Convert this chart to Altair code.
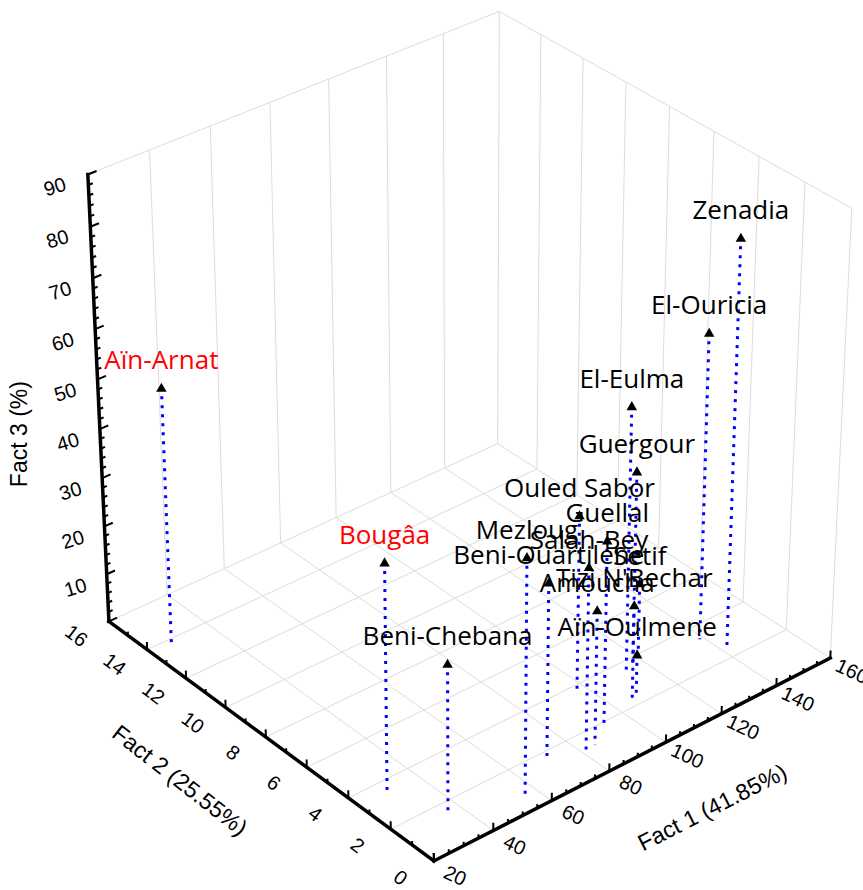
import numpy as np
import pandas as pd
import altair as alt

# ---------------- data ----------------
names = ["Aïn-Arnat", "Bougâa", "Beni-Chebana", "Zenadia", "El-Ouricia", "El-Eulma",
         "Guergour", "Ouled Sabor", "Guellal", "Mezloug", "Salah-Bey", "Beni-Ouartilene",
         "Setif", "Tizi N'Bechar", "Amoucha", "Aïn-Oulmene"]
fact1 = [26.3, 29.9, 35.8, 142.6, 138.8, 113.5, 115.5, 97.5, 93.1, 55.7, 81.5, 70.6,
         119.0, 105.8, 84.7, 108.5]
fact2 = [13.7, 3.56, 1.52, 2.58, 3.36, 3.56, 3.52, 3.78, 1.95, 0.65, 1.26, 1.63,
         3.72, 2.29, 1.27, 2.45]
fact3 = [53.0, 46.0, 30.4, 82.2, 62.7, 54.2, 40.8, 36.1, 37.5, 48.3, 37.4, 36.3,
         16.4, 19.8, 27.8, 8.4]
highlight = ["Aïn-Arnat", "Bougâa"]

f1_ticks = [20, 40, 60, 80, 100, 120, 140, 160]
f2_ticks = [0, 2, 4, 6, 8, 10, 12, 14, 16]
f3_ticks = [10, 20, 30, 40, 50, 60, 70, 80, 90]
F1_RANGE = (20, 160)
F2_RANGE = (0, 16)
F3_RANGE = (0, 90)
title_f1 = "Fact 1 (41.85%)"
title_f2 = "Fact 2 (25.55%)"
title_f3 = "Fact 3 (%)"

# ---------------- 3D view (perspective camera) ----------------
AZIMUTH = np.radians(39.96)
ELEVATION = np.radians(32.67)
BOX_HEIGHT = 1.0105
DISTANCE = 9.507
W, H = 863, 890
SCALE, CX, CY = 526.71, 467.67, 421.88


def nu(f1):
    return (np.asarray(f1, float) - F1_RANGE[0]) / (F1_RANGE[1] - F1_RANGE[0])


def nv(f2):
    return (np.asarray(f2, float) - F2_RANGE[0]) / (F2_RANGE[1] - F2_RANGE[0])


def nw(f3):
    return (np.asarray(f3, float) - F3_RANGE[0]) / (F3_RANGE[1] - F3_RANGE[0])


def project(u, v, w):
    u = np.asarray(u, float); v = np.asarray(v, float); w = np.asarray(w, float)
    X = u - 0.5; Y = v - 0.5; Z = (w - 0.5) * BOX_HEIGHT
    sa, ca, se, ce = np.sin(AZIMUTH), np.cos(AZIMUTH), np.sin(ELEVATION), np.cos(ELEVATION)
    xr = X * ca - Y * sa
    yu = X * sa * se + Y * ca * se + Z * ce
    fd = X * sa * ce + Y * ca * ce - Z * se
    m = DISTANCE / (DISTANCE + fd)
    return xr * m, yu * m


def segs(rows):
    out = []
    for (u1, v1, w1, u2, v2, w2) in rows:
        x1, y1 = project(u1, v1, w1)
        x2, y2 = project(u2, v2, w2)
        out.append({"x": float(x1), "y": float(y1), "x2": float(x2), "y2": float(y2)})
    return pd.DataFrame(out)


xs = alt.Scale(domain=[-CX / SCALE, (W - CX) / SCALE], nice=False, zero=False)
ys = alt.Scale(domain=[(CY - H) / SCALE, CY / SCALE], nice=False, zero=False)


def rule_layer(df, **mk):
    return alt.Chart(df).mark_rule(**mk).encode(
        x=alt.X("x:Q", scale=xs, axis=None), y=alt.Y("y:Q", scale=ys, axis=None),
        x2="x2:Q", y2="y2:Q")


def text_layer(df, **mk):
    return alt.Chart(df).mark_text(**mk).encode(
        x=alt.X("x:Q", scale=xs, axis=None), y=alt.Y("y:Q", scale=ys, axis=None),
        text="t:N")


# ---------------- box grid ----------------
grid = []
for t in f1_ticks[1:]:
    u = float(nu(t))
    grid.append((u, 1, 0, u, 1, 1))      # back-left wall verticals
    grid.append((u, 0, 0, u, 1, 0))      # floor lines
for t in f2_ticks[:-1]:
    v = float(nv(t))
    grid.append((1, v, 0, 1, v, 1))      # back-right wall verticals
    if t > 0:
        grid.append((0, v, 0, 1, v, 0))  # floor lines
grid.append((0, 1, 0, 1, 1, 0))          # floor back edge
grid.append((0, 1, 1, 1, 1, 1))          # top edges
grid.append((1, 0, 1, 1, 1, 1))
grid_df = segs(grid)

# ---------------- axes ----------------
axes_df = segs([(0, 0, 0, 0, 1, 0), (0, 0, 0, 1, 0, 0), (0, 1, 0, 0, 1, 1)])
ticks = []
for val in np.arange(F3_RANGE[0], F3_RANGE[1] + 0.01, 2):
    w = float(nw(val)); L = 0.02 if val % 10 == 0 else 0.01
    ticks.append((0, 1, w, L, 1, w))
for val in np.arange(F2_RANGE[0], F2_RANGE[1] + 0.01, 1):
    v = float(nv(val)); L = 0.018 if val % 2 == 0 else 0.009
    ticks.append((0, v, 0, 0, v, L))
for val in np.arange(F1_RANGE[0], F1_RANGE[1] + 0.01, 5):
    u = float(nu(val)); L = 0.018 if val % 20 == 0 else 0.009
    ticks.append((u, 0, 0, u, 0, L))
ticks_df = segs(ticks)


def label_df(us, vs, ws, texts):
    x, y = project(us, vs, ws)
    return pd.DataFrame({"x": x, "y": y, "t": texts})


f3_lab = label_df([-0.075] * len(f3_ticks), [1.0] * len(f3_ticks), nw(f3_ticks), [str(t) for t in f3_ticks])
f2_lab = label_df([-0.08] * len(f2_ticks), nv(f2_ticks), [0] * len(f2_ticks), [str(t) for t in f2_ticks])
f1_lab = label_df(nu(f1_ticks), [-0.06] * len(f1_ticks), [0] * len(f1_ticks), [str(t) for t in f1_ticks])

t1 = label_df([0.50], [-0.21], [0], [title_f1])
t2 = label_df([-0.21], [0.495], [0], [title_f2])
t3 = label_df([-0.15], [1.05], [0.47], [title_f3])

# ---------------- data points ----------------
px, py = project(nu(fact1), nv(fact2), nw(fact3))
bx, by = project(nu(fact1), nv(fact2), np.zeros(len(fact1)))
pts = pd.DataFrame({"x": px, "y": py, "x2": bx, "y2": by, "t": names,
                    "c": ["#ff0000" if n in highlight else "#000000" for n in names]})

grid_layer = rule_layer(grid_df, color="#dcdcdc", strokeWidth=1)
axes_layer = rule_layer(axes_df, color="black", strokeWidth=3.5, strokeCap="square")
ticks_layer = rule_layer(ticks_df, color="black", strokeWidth=2)
drop_layer = rule_layer(pts, color="#0000ff", strokeWidth=3, strokeDash=[3, 6])
tri_layer = alt.Chart(pts).mark_point(shape="triangle-up", filled=True, color="black",
                                      size=110, opacity=1).encode(
    x=alt.X("x:Q", scale=xs, axis=None), y=alt.Y("y:Q", scale=ys, axis=None))
name_layer = alt.Chart(pts).mark_text(font="Open Sans", fontSize=26, dy=-26,
                                      baseline="middle", align="center").encode(
    x=alt.X("x:Q", scale=xs, axis=None), y=alt.Y("y:Q", scale=ys, axis=None),
    text="t:N", color=alt.Color("c:N", scale=None))

lab_font = dict(font="Liberation Sans", fontSize=20, color="black", baseline="middle", align="center")
f3_layer = text_layer(f3_lab, angle=343, **lab_font)
f2_layer = text_layer(f2_lab, angle=37, **lab_font)
f1_layer = text_layer(f1_lab, angle=25, **lab_font)
title_font = dict(font="Liberation Sans", fontSize=23, color="black", baseline="middle", align="center")
t1_layer = text_layer(t1, angle=333, **title_font)
t2_layer = text_layer(t2, angle=38, **title_font)
t3_layer = text_layer(t3, angle=270, **title_font)

chart = alt.layer(grid_layer, axes_layer, ticks_layer, drop_layer, tri_layer, name_layer,
                  f3_layer, f2_layer, f1_layer, t1_layer, t2_layer, t3_layer).properties(
    width=W, height=H, padding=0, autosize="none").configure_view(stroke=None)

chart.save("out.html", embed_options={"renderer": "svg", "actions": False})
